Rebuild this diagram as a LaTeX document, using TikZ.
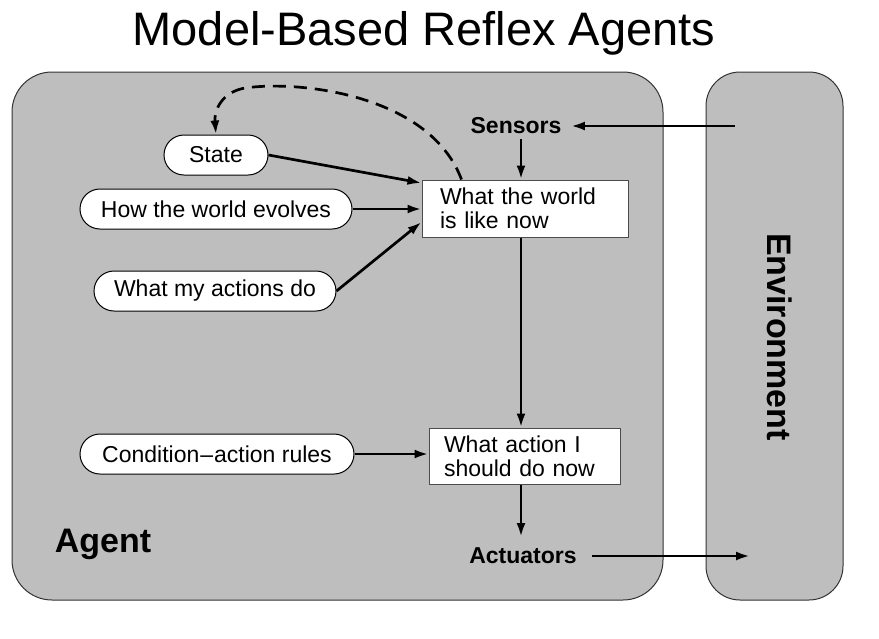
\documentclass[tikz,border=0pt]{standalone}
\usepackage{fontspec}
\setmainfont{Liberation Sans}
\usetikzlibrary{arrows.meta,shapes.misc}
\definecolor{boxgray}{RGB}{190,190,190}
\begin{document}
\begin{tikzpicture}[x=1pt,y=-1pt,
  pill/.style={draw=black,line width=1pt,fill=white,rounded rectangle,minimum height=40pt,inner xsep=2pt,font=\fontsize{23}{26}\selectfont},
  rectbox/.style={draw=black!70,line width=1pt,fill=white,rectangle,align=left,inner sep=0pt,font=\fontsize{23}{24}\selectfont},
  lbl/.style={font=\bfseries\fontsize{23}{26}\selectfont},
  biglbl/.style={font=\bfseries\fontsize{34}{36}\selectfont},
  arr/.style={line width=2.7pt,-{Latex[length=14pt,width=9pt]}},
  region/.style={draw=black!80,line width=1pt,fill=boxgray,rounded corners=40pt}
]
\useasboundingbox (0,0) rectangle (879,638);
\node[font=\fontsize{47}{50}\selectfont] (title) at (424,33) {Model-Based Reflex Agents};
\draw[region] (12,72) rectangle (663,600);
\draw[region,rounded corners=34pt] (706,72) rectangle (843,600);
\node[biglbl,rotate=-90] (env) at (780,337) {Environment};
\node[biglbl] (agent) at (103,544) {Agent};
\node[lbl] (sens) at (516,126) {Sensors};
\node[lbl] (act) at (523,556) {Actuators};
\node[pill,minimum width=108pt] (state) at (216,155) {State};
\node[pill,minimum width=276pt] (hwe) at (216,209) {How the world evolves};
\node[pill,minimum width=246pt] (wmad) at (215,291) {What my actions do};
\node[pill,minimum width=278pt] (car) at (217,454) {Condition{\hspace{1pt}}--{\hspace{1pt}}action rules};
\node[rectbox,minimum width=206pt,minimum height=57pt,text width=170pt] (wtw) at (525,208.5) {What the world\\is like now};
\node[rectbox,minimum width=191pt,minimum height=56pt,text width=161pt] (wai) at (524.5,456) {What action I\\should do now};
\coordinate (envin) at (735,126);
\coordinate (envout) at (750,556);
\coordinate (sb) at (521,139);
\coordinate (ab) at (521,537);
\draw[arr,shorten >=6pt] (envin) -- (sens.east);
\draw[arr] (sb) -- (sb |- wtw.north);
\draw[arr] (state.east) -- (wtw.west |- 0,183);
\draw[arr] (hwe.east) -- (hwe.east -| wtw.west);
\draw[arr] (wmad.east) -- (wtw.west |- 0,222);
\draw[arr] (wtw.south -| sb) -- (sb |- wai.north);
\draw[arr] (car.east) -- (car.east -| wai.west);
\draw[arr] (wai.south -| sb) -- (ab);
\draw[arr,shorten <=12pt] (act.east) -- (envout);
\draw[line width=2.7pt,dash pattern=on 13pt off 8pt,-{Latex[length=14pt,width=9pt]}]
  (wtw.north west) ++(40,0) .. controls (430,95) and (300,80) .. (245,88) .. controls (222,92) and (214,110) .. (state.north);
\end{tikzpicture}
\end{document}
